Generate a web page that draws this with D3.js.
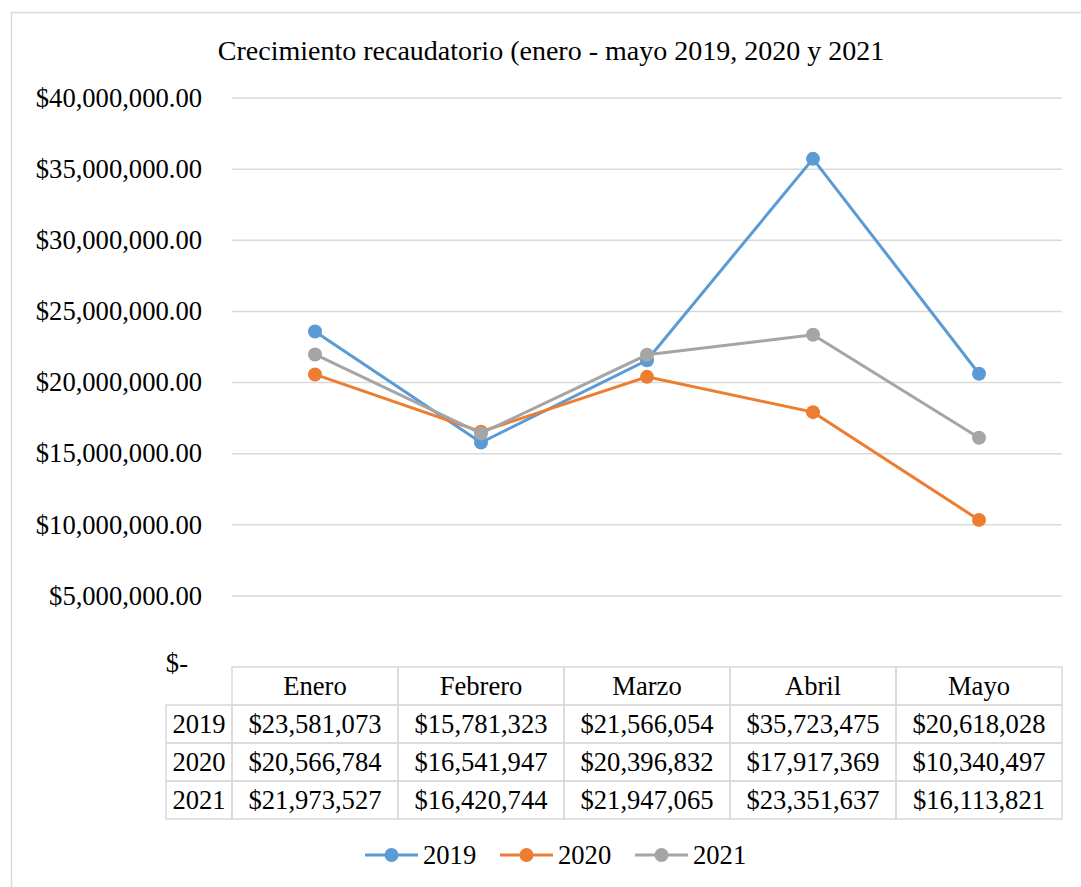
<!DOCTYPE html>
<html>
  <head>
    <meta charset="utf-8">
    <title>Crecimiento recaudatorio</title>
    <style>
      body { margin: 0; background: #fff; }
    </style>
  </head>
  <body>
    <script src="https://cdn.jsdelivr.net/npm/d3@7"></script>
    <script type="text/javascript">
      var months = ["Enero", "Febrero", "Marzo", "Abril", "Mayo"];
      var years = ["2019", "2020", "2021"];
      var v2019 = [23581073, 15781323, 21566054, 35723475, 20618028];
      var v2020 = [20566784, 16541947, 20396832, 17917369, 10340497];
      var v2021 = [21973527, 16420744, 21947065, 23351637, 16113821];
      var yTicks = [0, 5000000, 10000000, 15000000, 20000000, 25000000, 30000000, 35000000, 40000000];
      var colors = ["#5b9bd5", "#ed7d31", "#a5a5a5"];
      var titleText = "Crecimiento recaudatorio (enero - mayo 2019, 2020 y 2021";

      var series = [v2019, v2020, v2021];
      var width = 1081, height = 887;
      var grid = "#d9d9d9";
      var serif = "'Liberation Serif', 'Times New Roman', Tinos, 'DejaVu Serif', serif";

      var svg = d3.select("body").append("svg")
                  .attr("width", width)
                  .attr("height", height)
                  .attr("font-family", serif)
                  .attr("font-size", 26.6);

      // outer frame (runs off the bottom/right like the screenshot)
      svg.append("rect")
         .attr("x", 11.5).attr("y", 12.5)
         .attr("width", 1100).attr("height", 900)
         .attr("fill", "none").attr("stroke", grid).attr("stroke-width", 1.5);

      svg.append("text")
         .attr("x", 551).attr("y", 60)
         .attr("text-anchor", "middle")
         .attr("font-size", 28)
         .text(titleText);

      var x = d3.scaleBand().domain(months).range([232, 1062]).padding(0);
      var y = d3.scaleLinear().domain([0, 40000000]).range([667, 98]);
      function cx(m) { return x(m) + x.bandwidth() / 2; }

      var money = d3.format("$,.2f");

      // gridlines
      svg.selectAll("line.grid")
         .data(yTicks.filter(function(d) { return d > 0; }))
         .enter().append("line")
         .attr("class", "grid")
         .attr("x1", 232).attr("x2", 1062)
         .attr("y1", function(d) { return y(d); })
         .attr("y2", function(d) { return y(d); })
         .attr("stroke", grid).attr("stroke-width", 1.5);

      // y labels
      svg.selectAll("text.ylab")
         .data(yTicks)
         .enter().append("text")
         .attr("class", "ylab")
         .attr("x", function(d) { return d === 0 ? 188 : 202; })
         .attr("y", function(d) { return d === 0 ? y(d) - 4 : y(d); })
         .attr("dy", "0.33em")
         .attr("text-anchor", "end")
         .text(function(d) { return d === 0 ? "$-" : money(d); });

      // lines and markers
      var line = d3.line()
                   .x(function(d, i) { return cx(months[i]); })
                   .y(function(d) { return y(d); });

      series.forEach(function(s, k) {
        svg.append("path")
           .datum(s)
           .attr("d", line)
           .attr("fill", "none")
           .attr("stroke", colors[k])
           .attr("stroke-width", 3);
        svg.selectAll("circle.s" + k)
           .data(s)
           .enter().append("circle")
           .attr("class", "s" + k)
           .attr("cx", function(d, i) { return cx(months[i]); })
           .attr("cy", function(d) { return y(d); })
           .attr("r", 7)
           .attr("fill", colors[k]);
      });

      // data table
      var rowTop = 667, rowH = 38;
      var labelLeft = 166;
      var tb = svg.append("g");
      var fmtInt = d3.format("$,d");

      // header row cells
      months.forEach(function(m) {
        tb.append("rect")
          .attr("x", x(m)).attr("y", rowTop)
          .attr("width", x.bandwidth()).attr("height", rowH)
          .attr("fill", "none").attr("stroke", grid).attr("stroke-width", 1.5);
        tb.append("text")
          .attr("x", cx(m)).attr("y", rowTop + rowH / 2)
          .attr("dy", "0.33em")
          .attr("text-anchor", "middle")
          .text(m);
      });

      series.forEach(function(s, k) {
        var top = rowTop + rowH * (k + 1);
        tb.append("rect")
          .attr("x", labelLeft).attr("y", top)
          .attr("width", 232 - labelLeft).attr("height", rowH)
          .attr("fill", "none").attr("stroke", grid).attr("stroke-width", 1.5);
        tb.append("text")
          .attr("x", (labelLeft + 232) / 2).attr("y", top + rowH / 2)
          .attr("dy", "0.33em")
          .attr("text-anchor", "middle")
          .text(years[k]);
        s.forEach(function(v, i) {
          tb.append("rect")
            .attr("x", x(months[i])).attr("y", top)
            .attr("width", x.bandwidth()).attr("height", rowH)
            .attr("fill", "none").attr("stroke", grid).attr("stroke-width", 1.5);
          tb.append("text")
            .attr("x", cx(months[i])).attr("y", top + rowH / 2)
            .attr("dy", "0.33em")
            .attr("text-anchor", "middle")
            .text(fmtInt(v));
        });
      });

      // legend
      var legX = [365, 500, 635];
      var legY = 855;
      var leg = svg.selectAll("g.leg")
                   .data(years)
                   .enter().append("g")
                   .attr("class", "leg")
                   .attr("transform", function(d, i) { return "translate(" + legX[i] + "," + legY + ")"; });
      leg.append("line")
         .attr("x1", 0).attr("x2", 53)
         .attr("stroke", function(d, i) { return colors[i]; })
         .attr("stroke-width", 3);
      leg.append("circle")
         .attr("cx", 26.5).attr("r", 7)
         .attr("fill", function(d, i) { return colors[i]; });
      leg.append("text")
         .attr("x", 58).attr("dy", "0.33em")
         .text(function(d) { return d; });
    </script>
  </body>
</html>
